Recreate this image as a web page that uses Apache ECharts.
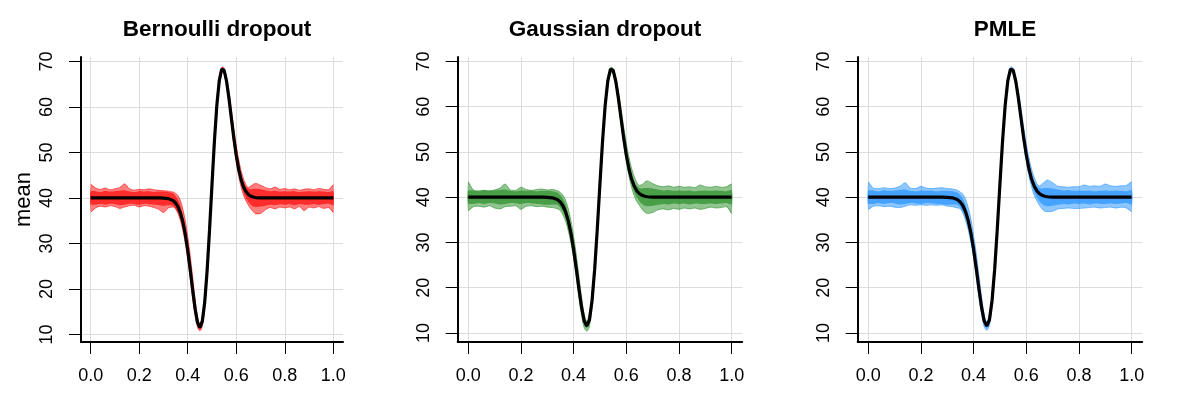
<!DOCTYPE html>
<html>
<head>
<meta charset="utf-8">
<script src="https://cdn.jsdelivr.net/npm/echarts@6/dist/echarts.min.js"></script>
<style>html,body{margin:0;padding:0;background:#fff}#c{width:1200px;height:400px}</style>
</head>
<body>
<div id="c"></div>
<script>
// ---- data ----
const titles = ['Bernoulli dropout', 'Gaussian dropout', 'PMLE'];
const xTicks = [0, 0.2, 0.4, 0.6, 0.8, 1.0];
const yTicks = [10, 20, 30, 40, 50, 60, 70];
const xs = [0,0.02,0.04,0.06,0.08,0.10,0.12,0.14,0.16,0.18,0.20,0.22,0.24,0.26,0.28,0.30,0.32,0.34,
  0.35,0.36,0.37,0.38,0.39,0.40,0.41,0.42,0.43,0.44,0.45,0.46,0.47,0.48,0.49,0.50,0.51,0.52,0.53,0.54,0.545,
  0.55,0.56,0.57,0.58,0.59,0.60,0.61,0.62,0.63,0.64,0.65,0.66,0.67,0.68,
  0.70,0.72,0.74,0.76,0.78,0.80,0.82,0.84,0.86,0.88,0.90,0.92,0.94,0.96,0.98,1.00];
const trueMean = [40,40,40,40,40,40,40,40,40,40,40,40,40,40,40,39.97,39.85,39.41,
  38.89,38.05,36.7,34.72,31.99,28.47,24.31,19.89,15.75,12.69,11.5,12.87,17.12,24.08,33.08,42.99,52.51,60.4,65.78,68.29,68.49,
  68.06,65.64,61.85,57.45,53.13,49.33,46.28,44.0,42.43,41.4,40.76,40.4,40.2,40.09,
  40.02,40,40,40,40,40,40,40,40,40,40,40,40,40,40,40];
// dense core of the curve ensembles (similar in all three panels)
const coreUpper = [41.4,41.5,41.3,41.6,41.4,41.5,41.6,41.7,41.4,41.3,41.5,41.4,41.5,41.3,41.4,41.4,41.3,41.0,
  40.4,39.6,38.3,36.0,33.4,29.9,25.8,21.3,16.9,13.5,12.0,13.4,17.8,24.8,33.8,43.7,53.2,61.0,66.2,68.5,68.6,
  68.3,66.1,62.6,58.4,54.2,50.5,47.4,45.0,43.6,42.5,42.0,41.9,42.0,42.0,
  41.9,41.7,41.5,41.6,41.4,41.5,41.4,41.5,41.3,41.4,41.5,41.4,41.5,41.4,41.3,41.5];
const coreLower = [38.6,38.5,38.7,38.5,38.7,38.6,38.4,38.5,38.7,38.6,38.5,38.7,38.6,38.5,38.4,38.3,38.4,38.3,
  37.6,36.7,35.3,33.6,30.8,27.3,23.2,18.8,14.8,12.0,11.1,12.3,16.4,23.3,32.3,42.2,51.8,59.8,65.3,67.9,68.1,
  67.8,65.2,61.3,56.8,52.4,48.6,45.5,43.2,41.2,40.0,39.1,38.5,38.1,38.0,
  38.1,38.3,38.5,38.4,38.6,38.5,38.6,38.4,38.6,38.5,38.5,38.6,38.5,38.6,38.7,38.4];
const bernUpper = [43.0,42.2,41.9,42.2,41.8,42.0,42.3,43.1,42.0,41.7,41.9,41.8,42.0,41.8,41.7,41.6,41.5,41.3,
  41.0,40.5,39.4,37.5,35.0,31.5,27.5,22.8,18.0,14.0,12.3,14.0,18.5,25.5,34.5,44.5,54.0,61.6,66.6,68.7,68.8,
  68.5,66.5,63.2,59.3,55.3,51.6,48.5,46.0,44.2,42.9,42.3,42.6,43.0,43.2,
  42.8,42.3,42.0,42.4,41.9,42.1,41.8,42.0,41.7,41.9,42.0,41.8,42.1,41.9,41.8,42.9];
const bernLower = [36.9,37.8,38.2,38.0,38.3,38.1,37.7,38.0,38.3,38.4,38.0,38.3,38.2,37.9,37.5,36.8,37.8,38.0,
  37.6,36.6,35.0,32.8,30.0,26.6,22.5,18.0,14.3,11.6,10.8,11.8,15.8,22.6,31.6,41.5,51.0,59.2,64.8,67.4,67.7,
  67.4,64.8,60.8,56.2,51.8,48.0,44.8,42.4,40.6,39.4,38.4,37.6,37.0,36.5,
  36.6,37.4,37.9,37.6,38.0,37.8,38.0,37.6,38.1,37.2,38.0,37.8,38.1,37.7,37.9,36.8];
const gaussUpper = [43.4,41.6,41.4,41.5,41.4,41.6,42.0,42.9,41.6,41.5,42.2,41.7,41.5,41.7,41.8,41.6,41.7,41.4,
  41.0,40.4,39.3,37.4,34.8,31.4,27.4,22.7,18.0,14.2,12.6,14.2,18.6,25.6,34.6,44.6,54.0,61.6,66.7,68.6,68.7,
  68.4,66.6,63.4,59.6,55.6,52.0,48.9,46.4,44.6,43.2,42.6,42.8,43.3,43.6,
  43.0,42.5,42.3,42.5,42.2,42.4,42.2,42.3,42.1,42.7,42.3,42.2,42.4,42.2,42.3,42.9];
const gaussLower = [37.0,37.9,38.0,37.8,38.1,37.6,37.4,37.9,38.0,38.1,37.3,38.0,38.1,37.9,38.0,37.8,37.7,37.4,
  37.0,36.0,34.6,32.5,29.8,26.4,22.4,17.8,14.0,11.2,10.4,11.4,15.6,22.4,31.4,41.4,50.9,59.0,64.6,67.3,67.6,
  67.3,64.7,60.7,56.2,51.8,48.0,44.7,42.2,40.3,39.0,38.2,37.3,36.7,36.4,
  36.6,37.2,37.4,37.2,37.5,37.3,37.6,37.4,37.6,37.3,37.5,37.8,37.6,37.7,37.9,36.4];
const pmleUpper = [43.4,42.0,41.9,42.1,41.9,42.0,42.4,43.2,42.0,41.9,42.4,42.0,41.9,42.0,42.1,41.9,41.8,41.5,
  41.1,40.6,39.5,37.6,35.1,31.6,27.6,22.9,18.1,14.1,12.4,14.1,18.6,25.6,34.6,44.6,54.1,61.7,66.7,68.7,68.8,
  68.5,66.6,63.3,59.5,55.5,51.8,48.7,46.2,44.4,43.0,42.5,42.9,43.4,43.8,
  43.2,42.4,42.3,42.2,42.3,42.3,42.7,42.4,42.5,42.4,42.9,42.5,42.4,42.5,42.6,43.4];
const pmleLower = [37.3,38.0,38.1,37.9,38.0,37.8,37.7,38.0,38.3,38.2,38.3,38.2,38.3,38.2,38.3,38.0,37.9,37.6,
  37.4,36.4,34.8,32.7,29.9,26.5,22.4,17.9,14.2,11.4,10.6,11.6,15.7,22.5,31.5,41.4,50.9,59.1,64.7,67.3,67.6,
  67.3,64.7,60.7,56.2,51.8,48.0,44.7,42.3,40.4,39.2,38.2,37.4,36.9,36.8,
  36.9,37.4,37.5,37.6,37.5,37.5,37.6,37.7,37.8,37.6,37.7,37.8,37.6,37.8,37.6,36.8];
const yRanges = [[8.35, 70.97], [8.0, 70.97], [8.0, 70.97]];

// ---- chart ----
const FONT = "'Liberation Sans', Arial, Helvetica, sans-serif";
const panels = [
  {upper: bernUpper, lower: bernLower, rgb: '255,0,0', grid: {left: 81, right: 857}, cx: 212},
  {upper: gaussUpper, lower: gaussLower, rgb: '34,139,34', grid: {left: 457.7, right: 457.8}, cx: 600},
  {upper: pmleUpper, lower: pmleLower, rgb: '30,144,255', grid: {left: 857.7, right: 57.8}, cx: 1000}
];
const pairs = arr => xs.map((x, i) => [x, arr[i]]);
const bandSeries = (i, up, lo, fill, z) => ({
  type: 'custom', xAxisIndex: i, yAxisIndex: i, data: [[0.5, 40]], clip: true, z: z,
  encode: {x: 0, y: 1}, silent: true,
  renderItem: (params, api) => {
    const top = xs.map((x, k) => api.coord([x, up[k]]));
    const bot = xs.map((x, k) => api.coord([x, lo[k]])).reverse();
    return {type: 'polygon', shape: {points: top.concat(bot), smooth: 0.25},
      style: {fill: fill, stroke: null}};
  }
});
const option = {
  animation: false,
  backgroundColor: '#fff',
  textStyle: {fontFamily: FONT},
  title: [], grid: [], xAxis: [], yAxis: [], series: []
};
panels.forEach((p, i) => {
  option.title.push({text: titles[i], left: p.cx, top: 13, textAlign: 'center',
    textStyle: {fontFamily: FONT, fontSize: 22.5, fontWeight: 'bold', color: '#000', lineHeight: 24}});
  option.grid.push({left: p.grid.left, right: p.grid.right, top: 57, bottom: 58});
  option.xAxis.push({type: 'value', gridIndex: i, min: -0.04, max: 1.04,
    axisLine: {show: true, onZero: false, lineStyle: {color: '#000', width: 2}},
    axisTick: {show: true, customValues: xTicks, length: 12, lineStyle: {color: '#000', width: 1}},
    axisLabel: {customValues: xTicks, formatter: v => v.toFixed(1), fontSize: 18, color: '#000', margin: 25, fontFamily: FONT},
    splitLine: {show: true, lineStyle: {color: '#dcdcdc', width: 1}}});
  option.yAxis.push({type: 'value', gridIndex: i, min: yRanges[i][0], max: yRanges[i][1],
    name: i === 0 ? 'mean' : '', nameLocation: 'middle', nameGap: 46,
    nameTextStyle: {fontSize: 22, color: '#000', fontFamily: FONT},
    axisLine: {show: true, onZero: false, lineStyle: {color: '#000', width: 2}},
    axisTick: {show: true, customValues: yTicks, length: 12, lineStyle: {color: '#000', width: 1}},
    axisLabel: {customValues: yTicks, rotate: 90, fontSize: 18, color: '#000', margin: 25, fontFamily: FONT},
    splitLine: {show: true, lineStyle: {color: '#dcdcdc', width: 1}}});
  // full envelope of the ensemble of curves, then its denser core
  option.series.push(bandSeries(i, p.upper, p.lower, 'rgba(' + p.rgb + ',0.5)', 2));
  option.series.push(bandSeries(i, coreUpper, coreLower, 'rgba(' + p.rgb + ',0.65)', 3));
  option.series.push({type: 'line', xAxisIndex: i, yAxisIndex: i, data: pairs(p.lower),
    symbol: 'none', smooth: 0.3, lineStyle: {color: 'rgba(' + p.rgb + ',0.55)', width: 1}, z: 4});
  option.series.push({type: 'line', xAxisIndex: i, yAxisIndex: i, data: pairs(p.upper),
    symbol: 'none', smooth: 0.3, lineStyle: {color: 'rgba(' + p.rgb + ',0.55)', width: 1}, z: 4});
  option.series.push({type: 'line', xAxisIndex: i, yAxisIndex: i, data: pairs(trueMean),
    symbol: 'none', lineStyle: {color: '#000', width: 3.2}, z: 5});
});
const chart = echarts.init(document.getElementById('c'), null, {renderer: 'canvas'});
chart.setOption(option);
</script>
</body>
</html>
